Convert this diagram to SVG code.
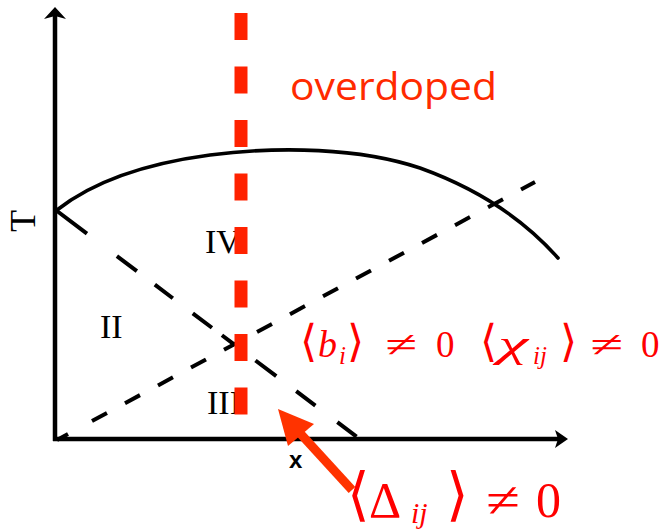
<svg xmlns="http://www.w3.org/2000/svg" width="664" height="531" viewBox="0 0 664 531">
<style>
.ax{stroke:#000;stroke-width:4.5;fill:none}
.cv{stroke:#000;stroke-width:3.6;fill:none;stroke-linecap:round}
.d{stroke:#000;stroke-width:4;fill:none}
.rn{font-family:"Liberation Serif",serif;fill:#000}
.m{font-family:"Liberation Serif",serif;fill:#f00}
.br{font-family:"DejaVu Sans",sans-serif;fill:#f00}
.mi{font-style:italic}
</style>
<rect width="664" height="531" fill="#fff"/>
<g id="axes">
<line class="ax" x1="55" y1="14" x2="55" y2="441"/>
<polygon points="55,7 66,19 55,16 44,19" fill="#000"/>
<line class="ax" x1="53" y1="439" x2="560" y2="439"/>
<polygon points="568,439 555,430 558,439 555,448" fill="#000"/>
<text class="rn" font-size="36" text-anchor="middle" transform="translate(35,221) rotate(-90)">T</text>
<text x="289" y="468" font-family="Liberation Sans,sans-serif" font-size="24" font-weight="bold">x</text>
</g>
<g id="connectors">
<path class="cv" d="M57,210 C95,180 150,163 210,155 C280,146 360,148 420,168 C470,186 520,215 558,258"/>
<path class="d" d="M57,211 L357,437" stroke-dasharray="37.5 37.5 25 22.5 22.5 25 24 12.5 16 26 26 25 24 27.5 24 100"/>
<path class="d" d="M57,440 L68,434"/>
<path class="d" d="M92,421 L535,182" stroke-dasharray="17 20.5"/>
</g>
<g id="region-labels">
<text class="rn" x="205" y="253" font-size="34">IV</text>
<text class="rn" x="100" y="338" font-size="34">II</text>
<text class="rn" x="207" y="414" font-size="34">III</text>
</g>
<g id="overdoped-line">
<line x1="241" y1="13" x2="241" y2="441" stroke="#ff2200" stroke-width="13" stroke-dasharray="27 26.5"/>
<text x="290" y="100" font-family="Open Sans,sans-serif" font-size="38" fill="#ff2a00" textLength="207" lengthAdjust="spacingAndGlyphs">overdoped</text>
</g>
<g id="label-b">
<text class="br" font-size="44" x="300" y="356">⟨</text>
<text class="m mi" font-size="38" x="318" y="357">b</text>
<text class="m mi" font-size="25" x="339" y="364">i</text>
<text class="br" font-size="44" x="347" y="356">⟩</text>
<text class="m" font-size="37" x="385" y="357" textLength="32" lengthAdjust="spacingAndGlyphs">≠</text>
<text class="m" font-size="37" x="436" y="357">0</text>
</g>
<g id="label-chi">
<text class="br" font-size="44" x="480" y="356">⟨</text>
<text class="m mi" font-size="38" x="498" y="357" textLength="30" lengthAdjust="spacingAndGlyphs">χ</text>
<text class="m mi" font-size="25" x="533" y="364">ij</text>
<text class="br" font-size="44" x="560" y="356">⟩</text>
<text class="m" font-size="37" x="590" y="357" textLength="33" lengthAdjust="spacingAndGlyphs">≠</text>
<text class="m" font-size="37" x="641" y="357">0</text>
</g>
<g id="label-delta">
<text class="br" font-size="58" x="347" y="514">⟨</text>
<text class="m" font-size="50" x="369" y="517">Δ</text>
<text class="m mi" font-size="30" x="411" y="523">ij</text>
<text class="br" font-size="58" x="446" y="514">⟩</text>
<text class="m" font-size="50" x="486" y="517" textLength="34" lengthAdjust="spacingAndGlyphs">≠</text>
<text class="m" font-size="50" x="536" y="517">0</text>
</g>
<g id="arrow">
<line x1="352" y1="490" x2="298" y2="431" stroke="#ff3300" stroke-width="9"/>
<polygon points="278,409 314,424 288,446" fill="#ff3300"/>
</g>
</svg>
